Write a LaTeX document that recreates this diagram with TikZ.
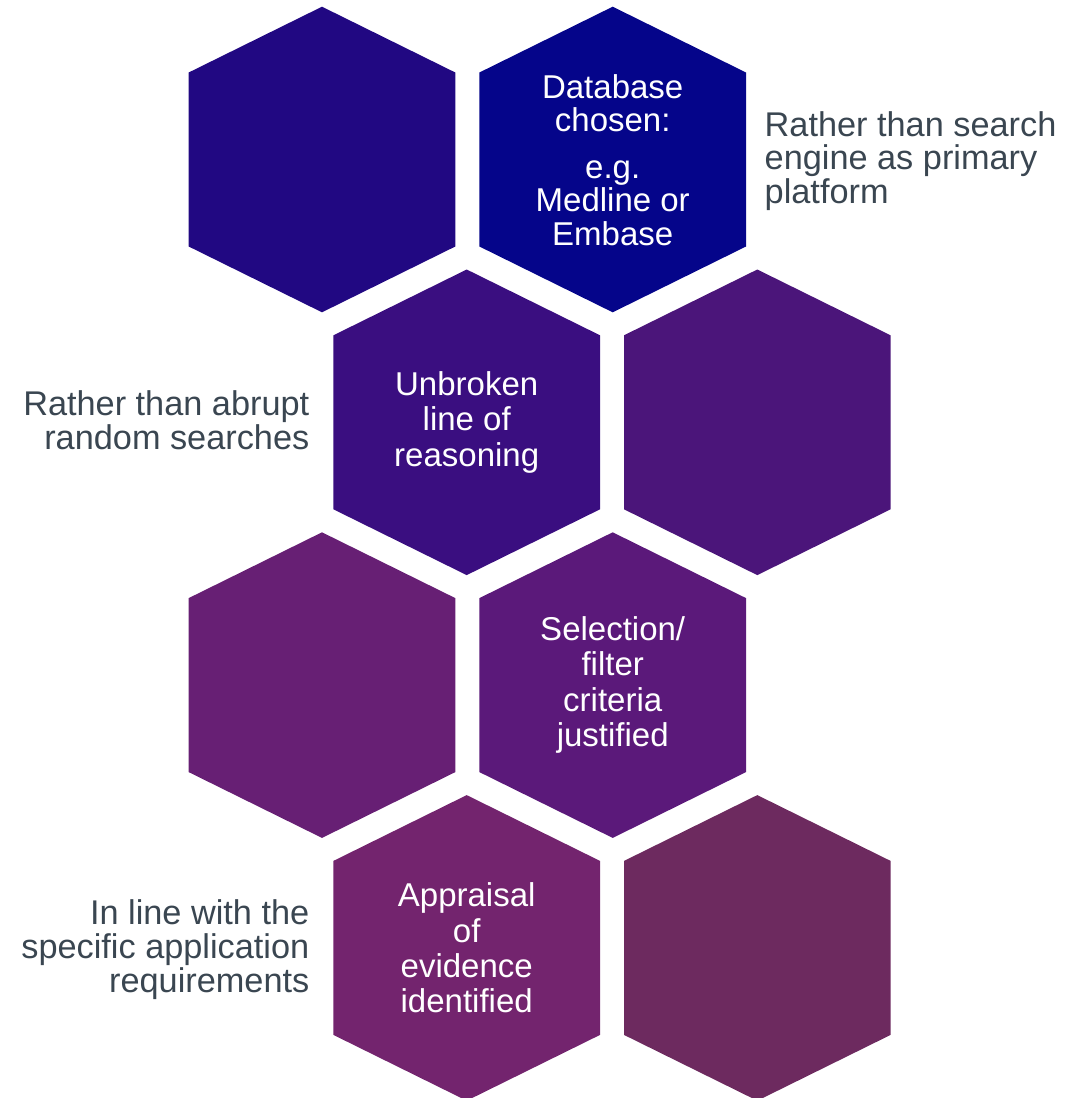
\documentclass[tikz,border=0pt]{standalone}
\usepackage{fontspec}
\setmainfont{Liberation Sans}

% cell colours, darkest blue at the top to plum at the bottom
\definecolor{hexA}{HTML}{210882}
\definecolor{hexB}{HTML}{05058A}
\definecolor{hexC}{HTML}{3A0E80}
\definecolor{hexD}{HTML}{4B157A}
\definecolor{hexE}{HTML}{671F74}
\definecolor{hexF}{HTML}{5B197A}
\definecolor{hexG}{HTML}{73246E}
\definecolor{hexH}{HTML}{6D2A5F}
\definecolor{notetext}{HTML}{3A4651}

\tikzset{
  % pointy-top hexagon, 266 wide and 306 tall
  pics/hexcell/.style={code={
    \fill[#1] (0,-152.8) -- (133.3,-87) -- (133.3,87) -- (0,152.8)
      -- (-133.3,87) -- (-133.3,-87) -- cycle;
  }},
  hextext/.style={text=white, align=center, inner sep=0pt,
    font=\fontsize{33}{35.4}\selectfont},
  note/.style={text=notetext, inner sep=0pt,
    font=\fontsize{34.3}{33.8}\selectfont},
}

\begin{document}
\begin{tikzpicture}[x=1pt, y=-1pt]
  \useasboundingbox (0,0) rectangle (1066,1098);
  \clip (0,0) rectangle (1066,1098);

  % honeycomb, two cells per row, rows shifted alternately
  \pic (h1) at (322,159.5)   {hexcell=hexA};
  \pic (h2) at (612.7,159.5) {hexcell=hexB};
  \pic (h3) at (466.7,422.3) {hexcell=hexC};
  \pic (h4) at (757.3,422.3) {hexcell=hexD};
  \pic (h5) at (322,685.1)   {hexcell=hexE};
  \pic (h6) at (612.7,685.1) {hexcell=hexF};
  \pic (h7) at (466.7,947.9) {hexcell=hexG};
  \pic (h8) at (757.3,947.9) {hexcell=hexH};

  % cell labels
  \node[hextext, font=\fontsize{33}{33.5}\selectfont] (database) at (612.7,160)
    {Database\\chosen:\\[13pt]e.g.\\Medline or\\Embase};
  \node[hextext] (reasoning) at (466.7,422.3)
    {Unbroken\\line of\\reasoning};
  \node[hextext] (selection) at (612.7,685.1)
    {Selection/\\filter\\criteria\\justified};
  \node[hextext] (appraisal) at (466.7,947.9)
    {Appraisal\\of\\evidence\\identified};

  % side notes
  \node[note, anchor=north west, align=left] (noteA) at (764.5,111)
    {Rather than search\\engine as primary\\platform};
  \node[note, anchor=north east, align=right] (noteB) at (309.5,390.7)
    {Rather than abrupt\\random searches};
  \node[note, anchor=north east, align=right] (noteC) at (309.5,899.7)
    {In line with the\\specific application\\requirements};
\end{tikzpicture}
\end{document}
